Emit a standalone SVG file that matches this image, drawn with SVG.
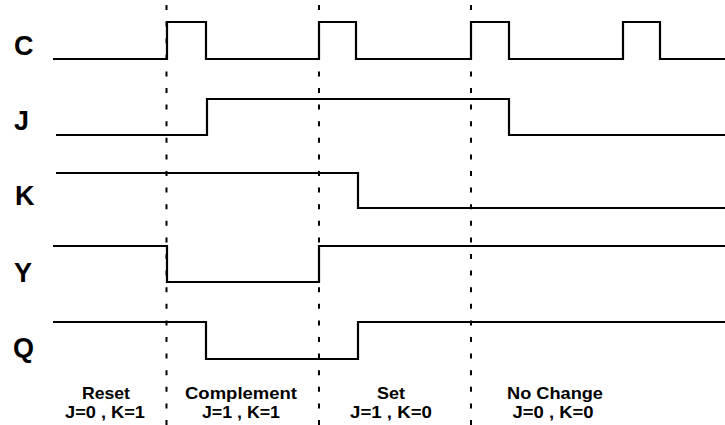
<svg xmlns="http://www.w3.org/2000/svg" width="725" height="425" viewBox="0 0 725 425">
<style>
.sig{fill:none;stroke:#000;stroke-width:2.2;stroke-linejoin:miter}
.div{stroke:#000;stroke-width:2;stroke-dasharray:5 11.6}
.lbl{font-family:"Liberation Sans",Arial,sans-serif;font-weight:bold;font-size:27px;fill:#000}
.cap{font-family:"Liberation Sans",Arial,sans-serif;font-weight:bold;font-size:16.5px;fill:#000;text-anchor:middle}
</style>
<rect width="725" height="425" fill="#fff"/>
<g id="dividers">
<line class="div" x1="166.5" y1="5" x2="166.5" y2="425"/>
<line class="div" x1="319" y1="5" x2="319" y2="425"/>
<line class="div" x1="471" y1="5" x2="471" y2="425"/>
</g>
<g id="signal-C">
<text class="lbl" x="14" y="55">C</text>
<path class="sig" d="M53,59 H167 V22 H206 V59 H319 V22 H356 V59 H471 V22 H509 V59 H623 V22 H660 V59 H725"/>
</g>
<g id="signal-J">
<text class="lbl" x="14" y="130">J</text>
<path class="sig" d="M56,135 H207 V99 H509 V135 H725"/>
</g>
<g id="signal-K">
<text class="lbl" x="15" y="205">K</text>
<path class="sig" d="M56,173 H358 V208 H725"/>
</g>
<g id="signal-Y">
<text class="lbl" x="14" y="282">Y</text>
<path class="sig" d="M53,246 H167 V282 H319 V246 H725"/>
</g>
<g id="signal-Q">
<text class="lbl" x="13" y="357">Q</text>
<path class="sig" d="M53,322 H206 V359 H358 V322 H725"/>
</g>
<g id="captions">
<text class="cap" x="106" y="399" textLength="48" lengthAdjust="spacingAndGlyphs">Reset</text>
<text class="cap" x="105" y="418" textLength="80" lengthAdjust="spacingAndGlyphs">J=0 , K=1</text>
<text class="cap" x="241" y="399" textLength="112" lengthAdjust="spacingAndGlyphs">Complement</text>
<text class="cap" x="241" y="418" textLength="78" lengthAdjust="spacingAndGlyphs">J=1 , K=1</text>
<text class="cap" x="391" y="399" textLength="28" lengthAdjust="spacingAndGlyphs">Set</text>
<text class="cap" x="391" y="418" textLength="82" lengthAdjust="spacingAndGlyphs">J=1 , K=0</text>
<text class="cap" x="555" y="399" textLength="96" lengthAdjust="spacingAndGlyphs">No Change</text>
<text class="cap" x="553" y="418" textLength="81" lengthAdjust="spacingAndGlyphs">J=0 , K=0</text>
</g>
</svg>
